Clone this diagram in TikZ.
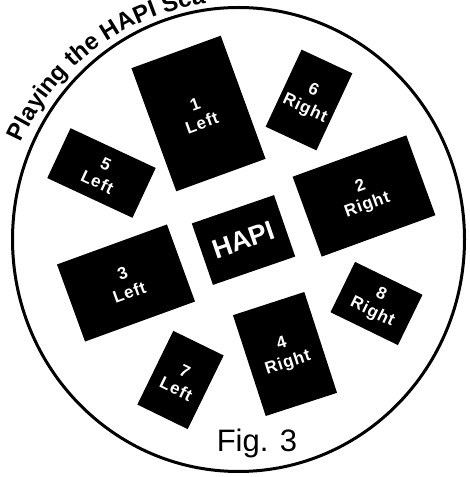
\documentclass[tikz,border=0pt]{standalone}
\usepackage{fontspec}
\setsansfont{Liberation Sans}
\newfontfamily\cardfont[LetterSpace=5]{Liberation Sans Bold}
\usetikzlibrary{decorations.text}

\begin{document}
\begin{tikzpicture}[x=1pt,y=1pt,font=\sffamily,card/.style={fill=black,text=white,inner sep=0pt,align=center,font=\cardfont\fontsize{17}{20}\selectfont},rim/.style={line width=3pt}]
\clip (0,0) rectangle (470,477);
\coordinate (ctr) at (238.5,237.5);
\draw[rim] (ctr) ellipse [x radius=226,y radius=232];
\path[decorate,decoration={text along path,text align=left,text={|\sffamily\bfseries\fontsize{24}{24}\selectfont|Playing the HAPI Sca}}] (ctr) ++(156:238) arc[start angle=156,end angle=60,radius=238];
\node[card,minimum width=95pt,minimum height=131pt,rotate=20] (c1) at (198.5,363.5) {1\\Left};
\node[card,minimum width=121pt,minimum height=85pt,rotate=20] (c2) at (364,281) {2\\Right};
\node[card,minimum width=117pt,minimum height=82pt,rotate=20] (c3) at (126,194) {3\\Left};
\node[card,minimum width=75pt,minimum height=106pt,rotate=18] (c4) at (285,123) {4\\Right};
\node[card,minimum width=94pt,minimum height=55pt,rotate=-25] (c5) at (101.5,304) {5\\Left};
\node[card,minimum width=56pt,minimum height=85pt,rotate=-25] (c6) at (309,377) {6\\Right};
\node[card,minimum width=56pt,minimum height=82pt,rotate=-26] (c7) at (180.5,97) {7\\Left};
\node[card,minimum width=75pt,minimum height=56pt,rotate=-26] (c8) at (376.5,173.5) {8\\Right};
\node[card,minimum width=87pt,minimum height=65pt,rotate=19,font=\sffamily\bfseries\fontsize{27}{27}\selectfont] (hapi) at (243.5,237) {HAPI};
\node[anchor=base,font=\sffamily\fontsize{31}{31}\selectfont] (fig) at (257,25) {Fig. 3};
\end{tikzpicture}
\end{document}
